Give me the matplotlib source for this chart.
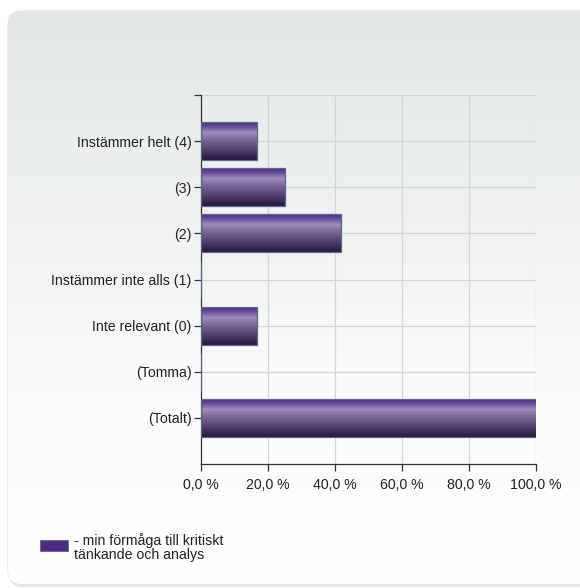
import numpy as np
import matplotlib
matplotlib.use("Agg")
import matplotlib.pyplot as plt
from matplotlib.patches import FancyBboxPatch, Rectangle
from matplotlib.colors import LinearSegmentedColormap

plt.rcParams['font.family'] = ['Liberation Sans', 'DejaVu Sans']

categories = ["Instämmer helt (4)", "(3)", "(2)", "Instämmer inte alls (1)",
              "Inte relevant (0)", "(Tomma)", "(Totalt)"]
values = [16.7, 25.0, 41.7, 0.0, 16.7, 0.0, 100.0]
xticks = [0, 20, 40, 60, 80, 100]
xtick_labels = ["0,0 %", "20,0 %", "40,0 %", "60,0 %", "80,0 %", "100,0 %"]
series_label = "- min förmåga till kritiskt\ntänkande och analys"

W, H = 580, 588
fig = plt.figure(figsize=(W / 100, H / 100), dpi=100)
fig.patch.set_facecolor("white")

# background panel with soft vertical gradient
bg = fig.add_axes([0, 0, 1, 1], zorder=0)
bg.set_xlim(0, W)
bg.set_ylim(H, 0)
bg.axis("off")
shadow = FancyBboxPatch((9, 12), 600, 575, boxstyle="round,pad=0,rounding_size=14",
                        facecolor="#d0d4d4", edgecolor="none", alpha=0.6)
bg.add_patch(shadow)
panel = FancyBboxPatch((8, 11), 600, 573, boxstyle="round,pad=0,rounding_size=14",
                       facecolor="none", edgecolor="#e2e6e6", lw=0.8)
bg.add_patch(panel)
grad = np.linspace(0, 1, 256)[:, None]
panel_cmap = LinearSegmentedColormap.from_list("panel", ["#e3e8e6", "#eef1f0", "#fbfbfb", "#ffffff"])
im = bg.imshow(grad, extent=(8, 608, 584, 11), cmap=panel_cmap, aspect="auto", zorder=1)
im.set_clip_path(panel)

# plot area: x 201..536, y 95..464 px
left, right, top, bottom = 201, 536, 95, 464
ax = fig.add_axes([left / W, 1 - bottom / H, (right - left) / W, (bottom - top) / H], zorder=2)
ax.patch.set_alpha(0)

n = len(categories)
ypos = np.arange(n)
bar_h = 0.82
bars = ax.barh(ypos, values, height=bar_h, color="none", edgecolor="#5b6a8c", lw=0.9, zorder=3)

bar_cmap = LinearSegmentedColormap.from_list(
    "bar", [(0.0, "#4d2a86"), (0.12, "#6a4c9a"), (0.27, "#9f8cbd"), (0.45, "#7d6a9a"),
            (0.75, "#4f3b6c"), (1.0, "#27173f")])
g = np.linspace(0, 1, 200)[:, None]
for y, v in zip(ypos, values):
    if v <= 0:
        continue
    ax.imshow(g, extent=(0, v, y + bar_h / 2, y - bar_h / 2), cmap=bar_cmap,
              aspect="auto", zorder=2.5, interpolation="bilinear")

ax.set_xlim(0, 100)
ax.set_ylim(n, -1)
ax.set_yticks(ypos)
ax.set_yticklabels(categories, fontsize=10.2, color="#222222")
ax.set_yticks([-1], minor=True)
ax.set_xticks(xticks)
ax.set_xticklabels(xtick_labels, fontsize=10.2, color="#222222")

for x in xticks[1:]:
    ax.axvline(x, color="#d3d6d6", lw=0.9, zorder=1)
for y in list(ypos) + [-1]:
    ax.axhline(y, color="#d3d6d6", lw=0.9, zorder=1)

for s in ["top", "right"]:
    ax.spines[s].set_visible(False)
ax.spines["left"].set_color("#333333")
ax.spines["bottom"].set_color("#333333")
ax.spines["left"].set_linewidth(0.9)
ax.spines["bottom"].set_linewidth(0.9)
ax.tick_params(axis="both", which="both", length=5, width=0.9, color="#333333")
ax.tick_params(axis="y", pad=2)
ax.tick_params(axis="x", pad=5)
ax.set_xlim(0, 100)
ax.set_ylim(n, -1)

# legend
bg.add_patch(Rectangle((40, 540), 28, 11, facecolor="#4d2a86", edgecolor="#5b6a8c", lw=0.6, zorder=3))
bg.text(74, 548, series_label, fontsize=10.2, color="#222222", va="center", ha="left",
        linespacing=1.0, zorder=3)

fig.savefig("out.png", dpi=100)
